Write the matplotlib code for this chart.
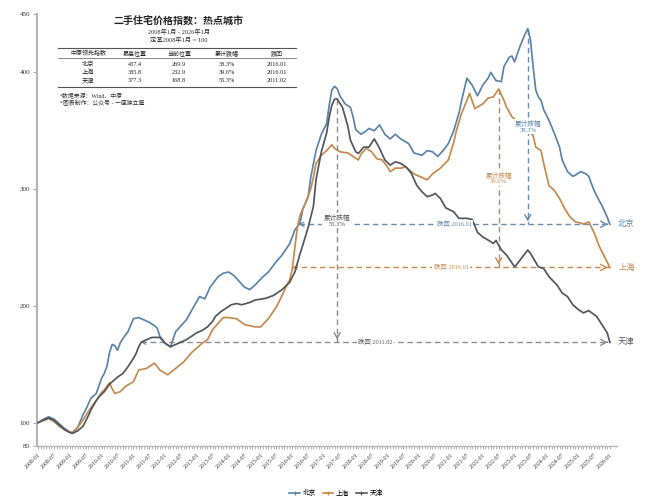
import matplotlib
matplotlib.use('Agg')
import matplotlib.pyplot as plt
from matplotlib.lines import Line2D

plt.rcParams['font.family'] = ['Liberation Serif', 'Noto Sans CJK SC', 'DejaVu Sans']

# ---------------- data ----------------
cities = ['北京', '上海', '天津']
colors = ['#5a84aa', '#c48a4e', '#54565e']
dash_colors = ['#6a8db0', '#c48a4e', '#8c8c8c']

# month offsets from 2008-01 and index values
bj_m = [0, 2, 4, 6, 8, 10, 12, 13, 15, 17, 18, 20, 22, 24, 25, 26, 27, 28, 29, 30, 31, 32, 34, 36, 38, 40,
        42, 44, 45, 46, 48, 50, 52, 54, 56, 57, 59, 61, 63, 65, 68, 70, 72, 74, 76, 78, 80, 82, 85, 87, 90,
        92, 95, 97, 99, 100, 102, 103, 105, 107, 109, 110, 111, 112, 113, 114, 116, 118, 119, 120, 122, 124,
        125, 127, 129, 131, 133, 135, 137, 140, 142, 145, 147, 149, 151, 153, 155, 157, 159, 160, 162, 164,
        166, 168, 170, 171, 173, 175, 176, 178, 179, 180, 182, 184, 185, 186, 187, 188, 189, 190, 191, 193,
        195, 197, 198, 200, 202, 203, 205, 207, 208, 210, 212, 213, 215, 216]
bj_v = [100, 103, 105, 103, 99, 95, 92, 91.5, 96, 107, 111, 121, 125, 138, 142, 148, 160, 167, 166, 162, 168,
        172, 178, 189, 190, 188, 186, 183, 181, 174, 168, 165, 178, 183, 188, 192, 200, 208, 206, 216, 225,
        228, 229, 226, 221, 216, 214, 218, 225, 229, 238, 243, 253, 265, 271, 283, 293, 310, 333, 347, 356,
        372, 385, 388, 386, 380, 373, 370, 362, 351, 347, 350, 352, 350, 355, 347, 343, 347, 343, 339, 331,
        329, 333, 332, 328, 333, 339, 350, 365, 376, 395, 389, 380, 389, 395, 400, 393, 392, 405, 413, 414,
        409, 422, 433, 437.4, 428, 405, 385, 379, 376, 368, 359, 348, 336, 325, 315, 311, 312, 315, 313, 311,
        299, 290, 286, 276, 269.9]

sh_m = [0, 2, 4, 6, 8, 10, 12, 13, 14, 16, 18, 20, 22, 24, 25, 27, 28, 29, 31, 33, 36, 38, 41, 44, 46, 49,
        52, 55, 58, 60, 62, 64, 66, 68, 70, 72, 75, 78, 80, 82, 84, 87, 90, 92, 94, 95, 96, 97, 98, 99, 101,
        103, 104, 105, 107, 109, 111, 112, 114, 117, 119, 121, 122, 124, 126, 128, 130, 132, 133, 135, 137,
        139, 142, 144, 147, 149, 152, 155, 157, 158, 160, 162, 163, 165, 168, 170, 172, 174, 175, 176, 177,
        179, 181, 183, 185, 187, 188, 190, 191, 193, 195, 197, 199, 201, 203, 205, 206, 208, 210, 212, 214, 216]
sh_v = [100, 102, 103.5, 101, 97, 94, 92, 91.4, 93, 99, 106, 113, 119, 126, 128, 134, 129, 125, 126.5, 131,
        135, 145, 146.5, 151, 145, 141, 146.5, 152, 160, 164, 168, 171, 180, 185, 190, 190, 189, 184, 183,
        182, 182, 189, 199, 208, 218, 222, 231, 250, 268, 278, 288, 300, 310, 322, 329, 333, 338, 335, 332,
        331, 328, 325, 330, 335, 332, 326, 325, 319, 315, 318, 318, 319, 313, 311, 308, 313, 318, 325, 340,
        350, 365, 376, 382, 369, 373, 378, 379, 385.8, 381, 376, 370, 362, 358, 354, 350, 346, 336, 333, 322,
        303, 299, 292, 283, 276, 272, 271, 270, 272, 263, 251, 242, 232.9]

tj_m = [0, 2, 4, 6, 8, 10, 12, 13, 15, 17, 19, 20, 22, 23, 25, 27, 28, 30, 32, 34, 36, 37, 38, 39, 41, 43,
        46, 48, 50, 52, 54, 56, 58, 60, 62, 64, 66, 67, 69, 71, 73, 75, 77, 80, 82, 86, 89, 92, 95, 97, 99,
        100, 102, 104, 105, 107, 109, 110, 111, 112, 113, 115, 117, 118, 120, 121, 123, 125, 127, 129, 131,
        133, 135, 137, 139, 141, 143, 145, 147, 149, 150, 152, 154, 157, 159, 162, 164, 166, 168, 170, 172,
        173, 175, 177, 180, 181, 183, 185, 186, 189, 191, 193, 196, 198, 200, 202, 204, 206, 208, 211, 213,
        215, 216]
tj_v = [100, 102, 104, 102, 98, 94, 91.5, 90.8, 93, 97, 106, 111, 119, 122, 126.5, 133, 135, 139, 142, 148,
        155, 159, 165, 169, 171, 173, 173, 168, 165, 167, 169, 171, 174, 177, 179, 182, 187, 191, 195, 198,
        201, 202, 201, 203, 205, 206.5, 209, 213.6, 220, 229, 245, 252, 267, 285, 308, 332, 348, 362, 372,
        377, 377.3, 370, 354, 342, 332, 330.6, 336, 336, 343, 335, 325, 320.6, 323.4, 322, 319, 313.5, 303.5,
        297.8, 293.5, 295, 296.3, 292, 284, 280.6, 275, 275, 274, 263, 259, 256.4, 253.5, 256, 248, 243.5,
        233.5, 236, 242, 247.8, 245, 233.5, 232, 225, 218, 211, 208, 201, 197, 194, 196, 191, 184, 177, 168.8]

series_m = [bj_m, sh_m, tj_m]
series_v = [bj_v, sh_v, tj_v]

peak_vals = [437.4, 385.8, 377.3]
current_vals = [269.9, 232.9, 168.8]
back_to = ['2016.01', '2016.01', '2011.02']

table_header = ['中原领先指数', '最高位置', '当前位置', '累计跌幅', '跌回']
y_ticks = [80, 100, 200, 300, 400, 450]
start_year = 2008
n_months = 217

# ---------------- figure ----------------
W, H = 664, 500
fig = plt.figure(figsize=(W / 100, H / 100), dpi=100)
ax = fig.add_axes([37 / W, 1 - 446 / H, 580 / W, 432 / H])


def fx(px):
    return px / W


def fy(py):
    return 1 - py / H


for m, v, c, lab in zip(series_m, series_v, colors, cities):
    ax.plot(m, v, color=c, lw=1.25, zorder=3, label=lab, solid_joinstyle='round')

ax.set_xlim(-0.4, 218.7)
ax.set_ylim(80, 450)
ax.set_yticks(y_ticks)
ax.set_yticklabels([str(t) for t in y_ticks])

major = list(range(0, n_months, 6))
ax.set_xticks(major)
ax.set_xticklabels([f"{start_year + k // 12}-{k % 12 + 1:02d}" for k in major],
                   rotation=45, ha='right', rotation_mode='anchor')
ax.set_xticks(list(range(0, n_months)), minor=True)
ax.tick_params(axis='x', which='major', labelsize=4.2, length=2.5, width=0.6, color='#999999',
               pad=2, labelcolor='#333333')
ax.tick_params(axis='x', which='minor', length=2.0, width=0.5, color='#999999')
ax.tick_params(axis='y', labelsize=5, length=3, width=0.6, color='#999999', pad=2, labelcolor='#333333')
for s in ['top', 'right']:
    ax.spines[s].set_visible(False)
ax.spines['left'].set_color('#b5b5b5')
ax.spines['left'].set_linewidth(1.6)
ax.spines['bottom'].set_color('#b5b5b5')
ax.spines['bottom'].set_linewidth(1.0)

# ---------------- annotations ----------------
dash = (0, (4, 2.6))
last_m = n_months - 1
for m, v, c, dc, lab, pk, cur, bt in zip(series_m, series_v, colors, dash_colors, cities,
                                         peak_vals, current_vals, back_to):
    # first crossing of current level
    start = None
    for i in range(1, len(m)):
        if v[i] >= cur and v[i - 1] < cur:
            start = m[i - 1] + (cur - v[i - 1]) / (v[i] - v[i - 1]) * (m[i] - m[i - 1])
            break
    pk_m = m[v.index(max(v))]
    # horizontal dashed arrow
    ax.plot([start, last_m], [cur, cur], color=dc, lw=1.0, linestyle=dash, zorder=2)
    ax.annotate('', xy=(last_m + 0.2, cur), xytext=(last_m - 2, cur),
                arrowprops=dict(arrowstyle='->,head_length=0.4,head_width=0.22', color=dc, lw=1.0),
                zorder=2)
    ax.annotate('', xy=(start, cur), xytext=(start + 1.5, cur),
                arrowprops=dict(arrowstyle='->,head_length=0.25,head_width=0.15', color=dc, lw=0.9),
                zorder=2)
    ax.text((start + last_m) / 2, cur, f'跌回 {bt}', color=c, fontsize=4.6, ha='center', va='center',
            zorder=5, bbox=dict(boxstyle='square,pad=0.25', fc='white', ec='none'))
    # vertical dashed arrow
    ax.plot([pk_m, pk_m], [pk, cur], color=dc, lw=1.0, linestyle=dash, zorder=2)
    ax.annotate('', xy=(pk_m, cur), xytext=(pk_m, cur + 8),
                arrowprops=dict(arrowstyle='->,head_length=0.4,head_width=0.22', color=dc, lw=1.0),
                zorder=2)
    drop = (1 - cur / pk) * 100
    ax.text(pk_m, (pk + cur) / 2, f'累计跌幅\n{drop:.1f}%', color=c, fontsize=4.8, ha='center',
            va='center', linespacing=1.1, zorder=5,
            bbox=dict(boxstyle='square,pad=0.25', fc='white', ec='none'))
    # end label
    ax.annotate(lab, xy=(last_m, cur), xytext=(6, 0), textcoords='offset points', color=c,
                fontsize=6, ha='left', va='center', annotation_clip=False)

# ---------------- title & table ----------------
cx = 179
fig.text(fx(cx), fy(21), '二手住宅价格指数：热点城市', ha='center', va='center', fontsize=7.2,
         fontweight='bold', color='#222222')
fig.text(fx(cx), fy(31.5), f'{start_year}年1月 - 2026年1月', ha='center', va='center', fontsize=4.6,
         color='#333333')
fig.text(fx(cx), fy(39.5), f'定基{start_year}年1月 = 100', ha='center', va='center', fontsize=4.6,
         color='#333333')

tl, tr = 58, 296
for py, lw in [(48, 0.8), (58, 0.5), (87, 0.8)]:
    fig.add_artist(Line2D([fx(tl), fx(tr)], [fy(py), fy(py)], color='#555555', lw=lw))
col_x = [88, 135, 179, 227, 277]
for x, t in zip(col_x, table_header):
    fig.text(fx(x), fy(53.3), t, ha='center', va='center', fontsize=4.3, color='#222222')
row_y = [64, 72.5, 81]
for ry, lab, pk, cur, bt in zip(row_y, cities, peak_vals, current_vals, back_to):
    drop = (1 - cur / pk) * 100
    vals = [lab, f'{pk:.1f}', f'{cur:.1f}', f'{drop:.1f}%', bt]
    for x, t in zip(col_x, vals):
        fig.text(fx(x), fy(ry), t, ha='center', va='center', fontsize=4.5, color='#222222')
fig.text(fx(60), fy(95), '*数据来源：Wind、中原', ha='left', va='center', fontsize=4.2, color='#333333')
fig.text(fx(60), fy(103.5), '*图表制作：公众号 - 一座独立屋', ha='left', va='center', fontsize=4.2,
         color='#333333')

# ---------------- legend ----------------
handles = [Line2D([0], [0], color=c, lw=1.2, marker='+', markersize=3.5, markeredgewidth=0.8)
           for c in colors]
fig.legend(handles, cities, loc='center', bbox_to_anchor=(fx(336), fy(493)), ncol=3, frameon=False,
           fontsize=4.8, handlelength=1.6, handletextpad=0.4, columnspacing=1.0)

fig.savefig('out.png', dpi=100, facecolor='white')
